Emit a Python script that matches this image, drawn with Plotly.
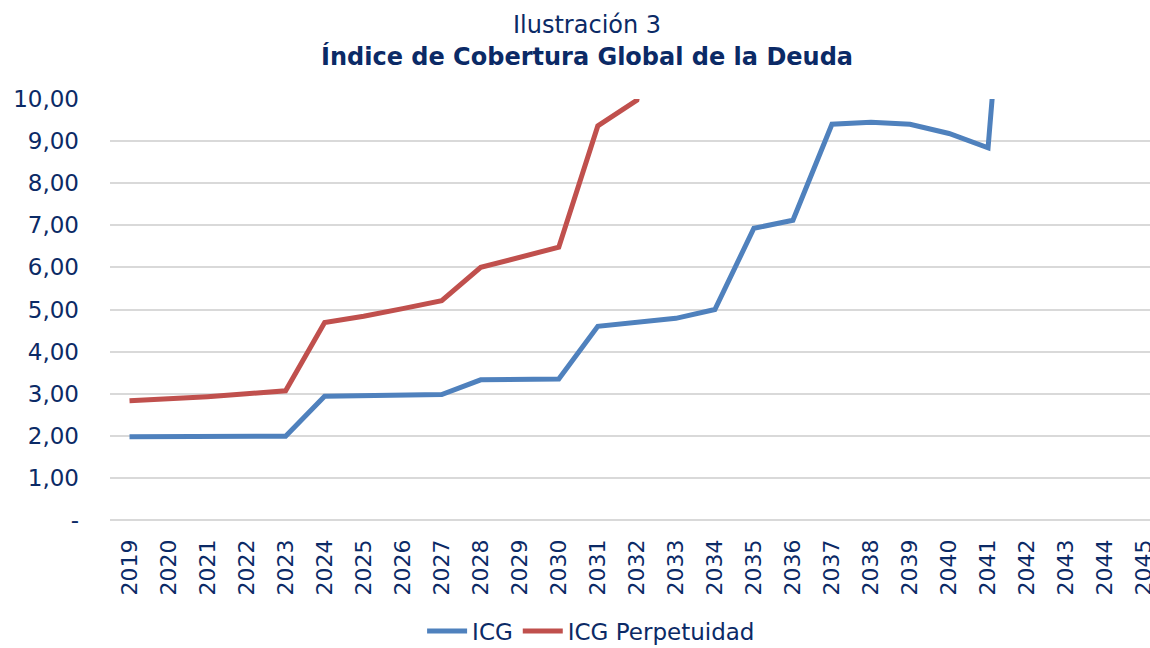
import plotly.graph_objects as go

years = [str(y) for y in range(2019, 2046)]
icg = [1.98, 1.98, 1.99, 1.99, 1.99, 2.94, 2.95, 2.97, 2.98, 3.33, 3.34, 3.35,
       4.60, 4.70, 4.79, 5.00, 6.93, 7.12, 9.40, 9.45, 9.40, 9.18, 8.84,
       20.0, 22.0, 24.0, 26.0]
icg_perp = [2.83, 2.87, 2.93, 3.00, 3.07, 4.69, 4.84, 5.02, 5.21, 6.00, 6.23, 6.48,
            9.36, 9.97, 15.0, 16.0, 18.0, 19.0, 23.0, 24.0, 25.0, 26.0, 27.0,
            40.0, 42.0, 44.0, 46.0]
y_tickvals = [0, 1, 2, 3, 4, 5, 6, 7, 8, 9, 10]
y_ticktext = ["-", "1,00", "2,00", "3,00", "4,00", "5,00", "6,00", "7,00",
              "8,00", "9,00", "10,00"]

navy = "#0B2A66"
font_family = "DejaVu Sans"

fig = go.Figure()
fig.add_trace(go.Scatter(x=years, y=icg, mode="lines", name="ICG",
                         line=dict(color="#4F81BD", width=5)))
fig.add_trace(go.Scatter(x=years, y=icg_perp, mode="lines", name="ICG Perpetuidad",
                         line=dict(color="#C0504D", width=5)))

fig.update_layout(
    width=1150, height=648,
    margin=dict(l=110, r=0, t=99, b=128, autoexpand=False),
    paper_bgcolor="white", plot_bgcolor="white",
    font=dict(family=font_family, color=navy, size=23),
    showlegend=True,
    legend=dict(orientation="h", xref="container", yref="container",
                x=0.514, xanchor="center", y=0.026, yanchor="middle",
                font=dict(size=23, color=navy), traceorder="normal",
                itemwidth=40),
    annotations=[
        dict(text="Ilustración 3", xref="paper", yref="paper", x=0.4587, y=1.1758,
             xanchor="center", yanchor="middle", showarrow=False,
             font=dict(size=24, color=navy, family=font_family)),
        dict(text="<b>Índice de Cobertura Global de la Deuda</b>", xref="paper",
             yref="paper", x=0.4587, y=1.0998, xanchor="center", yanchor="middle",
             showarrow=False, font=dict(size=24, color=navy, family=font_family)),
    ],
)

fig.update_xaxes(type="category", range=[-0.5, 26.15], tickangle=-90,
                 showgrid=False, showline=False, ticks="", ticklabelstandoff=14,
                 tickfont=dict(size=22, color=navy), zeroline=False,
                 automargin=False)
fig.update_yaxes(range=[0, 10], tickvals=y_tickvals, ticktext=y_ticktext,
                 showgrid=True, gridcolor="#D9D9D9", gridwidth=2,
                 zeroline=True, zerolinecolor="#D9D9D9", zerolinewidth=2,
                 showline=False, ticks="", ticklabelstandoff=30,
                 tickfont=dict(size=23, color=navy), automargin=False)

fig.write_html("out.html", config={"displayModeBar": False})

with open("out.html", "r", encoding="utf-8") as f:
    html = f.read()
html = html.replace("<head>", "<head><style>html,body{margin:0;padding:0;overflow:hidden;}</style>", 1)
with open("out.html", "w", encoding="utf-8") as f:
    f.write(html)
